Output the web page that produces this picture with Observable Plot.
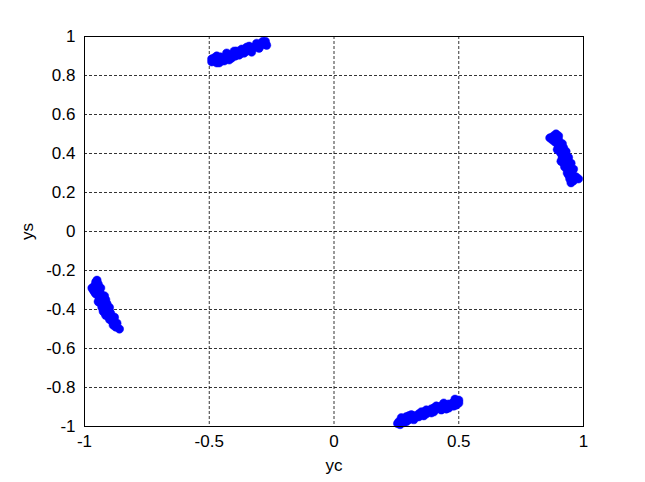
<!DOCTYPE html>
<html>
<head>
<meta charset="utf-8">
<script src="https://cdn.jsdelivr.net/npm/d3@7"></script>
<script src="https://cdn.jsdelivr.net/npm/@observablehq/plot@0.6"></script>
<style>
  html, body { margin: 0; padding: 0; background: #fff; }
  svg { display: block; }
</style>
</head>
<body>
<div id="chart"></div>
<script>
// Cluster near angle ~115° (top)
const topX = [-0.49,-0.48,-0.47,-0.47,-0.46,-0.455,-0.45,-0.44,-0.43,-0.42,-0.41,-0.40,-0.395,-0.38,-0.37,-0.36,-0.35,-0.34,-0.33,-0.32,-0.31,-0.30,-0.29,-0.28,-0.285,-0.27,
              -0.48,-0.46,-0.44,-0.43,-0.41,-0.39,-0.38,-0.36,-0.35,-0.33,-0.31,-0.30,-0.275,-0.49,-0.47,-0.42,-0.37,-0.34,-0.40];
const topY = [0.870,0.875,0.865,0.885,0.880,0.895,0.875,0.890,0.900,0.895,0.905,0.915,0.900,0.920,0.915,0.930,0.925,0.940,0.935,0.945,0.950,0.955,0.965,0.960,0.975,0.955,
              0.890,0.865,0.875,0.915,0.890,0.925,0.905,0.915,0.945,0.920,0.965,0.940,0.975,0.885,0.900,0.880,0.935,0.950,0.925];
// Cluster near angle ~25° (right)
const rightX = [0.87,0.88,0.875,0.89,0.885,0.895,0.90,0.90,0.91,0.905,0.915,0.92,0.915,0.925,0.93,0.92,0.935,0.94,0.935,0.945,0.95,0.94,0.955,0.96,0.95,0.97,0.98,0.96,
                0.90,0.915,0.92,0.93,0.94,0.95,0.96,0.91,0.925,0.935,0.945,0.865,0.895,0.91];
const rightY = [0.48,0.49,0.47,0.50,0.46,0.45,0.47,0.43,0.44,0.41,0.42,0.40,0.38,0.39,0.36,0.35,0.37,0.34,0.32,0.33,0.30,0.29,0.31,0.28,0.25,0.28,0.27,0.26,
                0.49,0.45,0.43,0.41,0.38,0.35,0.32,0.36,0.33,0.30,0.27,0.48,0.42,0.40];
// Cluster near angle ~205° (left)
const leftX = [-0.955,-0.96,-0.95,-0.965,-0.95,-0.955,-0.94,-0.945,-0.935,-0.94,-0.93,-0.925,-0.92,-0.93,-0.915,-0.91,-0.905,-0.91,-0.90,-0.895,-0.89,-0.885,-0.88,-0.885,-0.87,-0.86,
               -0.945,-0.96,-0.935,-0.92,-0.945,-0.915,-0.925,-0.90,-0.895,-0.90,-0.88,-0.875,-0.97,-0.935,-0.915];
const leftY = [-0.26,-0.28,-0.25,-0.30,-0.29,-0.32,-0.30,-0.33,-0.32,-0.35,-0.36,-0.34,-0.38,-0.39,-0.40,-0.37,-0.42,-0.43,-0.41,-0.44,-0.46,-0.45,-0.47,-0.48,-0.47,-0.50,
               -0.27,-0.31,-0.29,-0.33,-0.36,-0.35,-0.41,-0.39,-0.42,-0.45,-0.44,-0.49,-0.29,-0.37,-0.43];
// Cluster near angle ~295° (bottom)
const bottomX = [0.255,0.26,0.27,0.28,0.285,0.29,0.30,0.31,0.32,0.33,0.34,0.35,0.36,0.37,0.38,0.39,0.40,0.41,0.42,0.43,0.44,0.45,0.46,0.47,0.48,0.49,0.50,0.485,
                 0.27,0.29,0.30,0.32,0.34,0.35,0.37,0.39,0.41,0.43,0.45,0.46,0.48,0.50,0.265,0.31,0.36,0.40,0.44];
const bottomY = [-0.985,-0.975,-0.97,-0.98,-0.96,-0.95,-0.965,-0.955,-0.945,-0.95,-0.935,-0.94,-0.925,-0.935,-0.92,-0.91,-0.925,-0.91,-0.90,-0.915,-0.90,-0.89,-0.905,-0.885,-0.875,-0.89,-0.88,-0.86,
                 -0.955,-0.975,-0.945,-0.965,-0.95,-0.925,-0.915,-0.93,-0.895,-0.895,-0.91,-0.885,-0.895,-0.865,-0.99,-0.94,-0.945,-0.905,-0.88];

const xTicks = [-1, -0.5, 0, 0.5, 1];
const yTicks = [-1, -0.8, -0.6, -0.4, -0.2, 0, 0.2, 0.4, 0.6, 0.8, 1];

const points = [];
for (const [xs, ys] of [[topX, topY], [rightX, rightY], [leftX, leftY], [bottomX, bottomY]]) {
  xs.forEach((x, i) => points.push({yc: x, ys: ys[i]}));
}

const fmt = d => String(d);

const chart = Plot.plot({
  width: 645,
  height: 482,
  marginLeft: 84,
  marginRight: 62,
  marginTop: 36,
  marginBottom: 56,
  style: {fontFamily: "'Liberation Sans', Arial, sans-serif", fontSize: "17px", color: "#000", background: "#fff"},
  x: {domain: [-1, 1]},
  y: {domain: [-1, 1]},
  marks: [
    Plot.gridX(xTicks, {stroke: "#000", strokeOpacity: 1, strokeWidth: 0.8, strokeDasharray: "3,2"}),
    Plot.gridY(yTicks, {stroke: "#000", strokeOpacity: 1, strokeWidth: 0.8, strokeDasharray: "3,2"}),
    Plot.dot(points, {x: "yc", y: "ys", r: 4.2, fill: "#0000ff", stroke: "#0000ff", strokeWidth: 0.5}),
    Plot.frame({stroke: "#000", strokeWidth: 1}),
    Plot.axisX(xTicks, {tickSize: 0, tickPadding: 8, tickFormat: fmt, fontSize: 17, label: "yc", labelAnchor: "center", labelArrow: "none", labelOffset: 44}),
    Plot.axisY(yTicks, {tickSize: 0, tickPadding: 9, tickFormat: fmt, fontSize: 17, label: "ys", labelAnchor: "center", labelArrow: "none", labelOffset: 64})
  ]
});
document.getElementById("chart").appendChild(chart);
</script>
</body>
</html>
